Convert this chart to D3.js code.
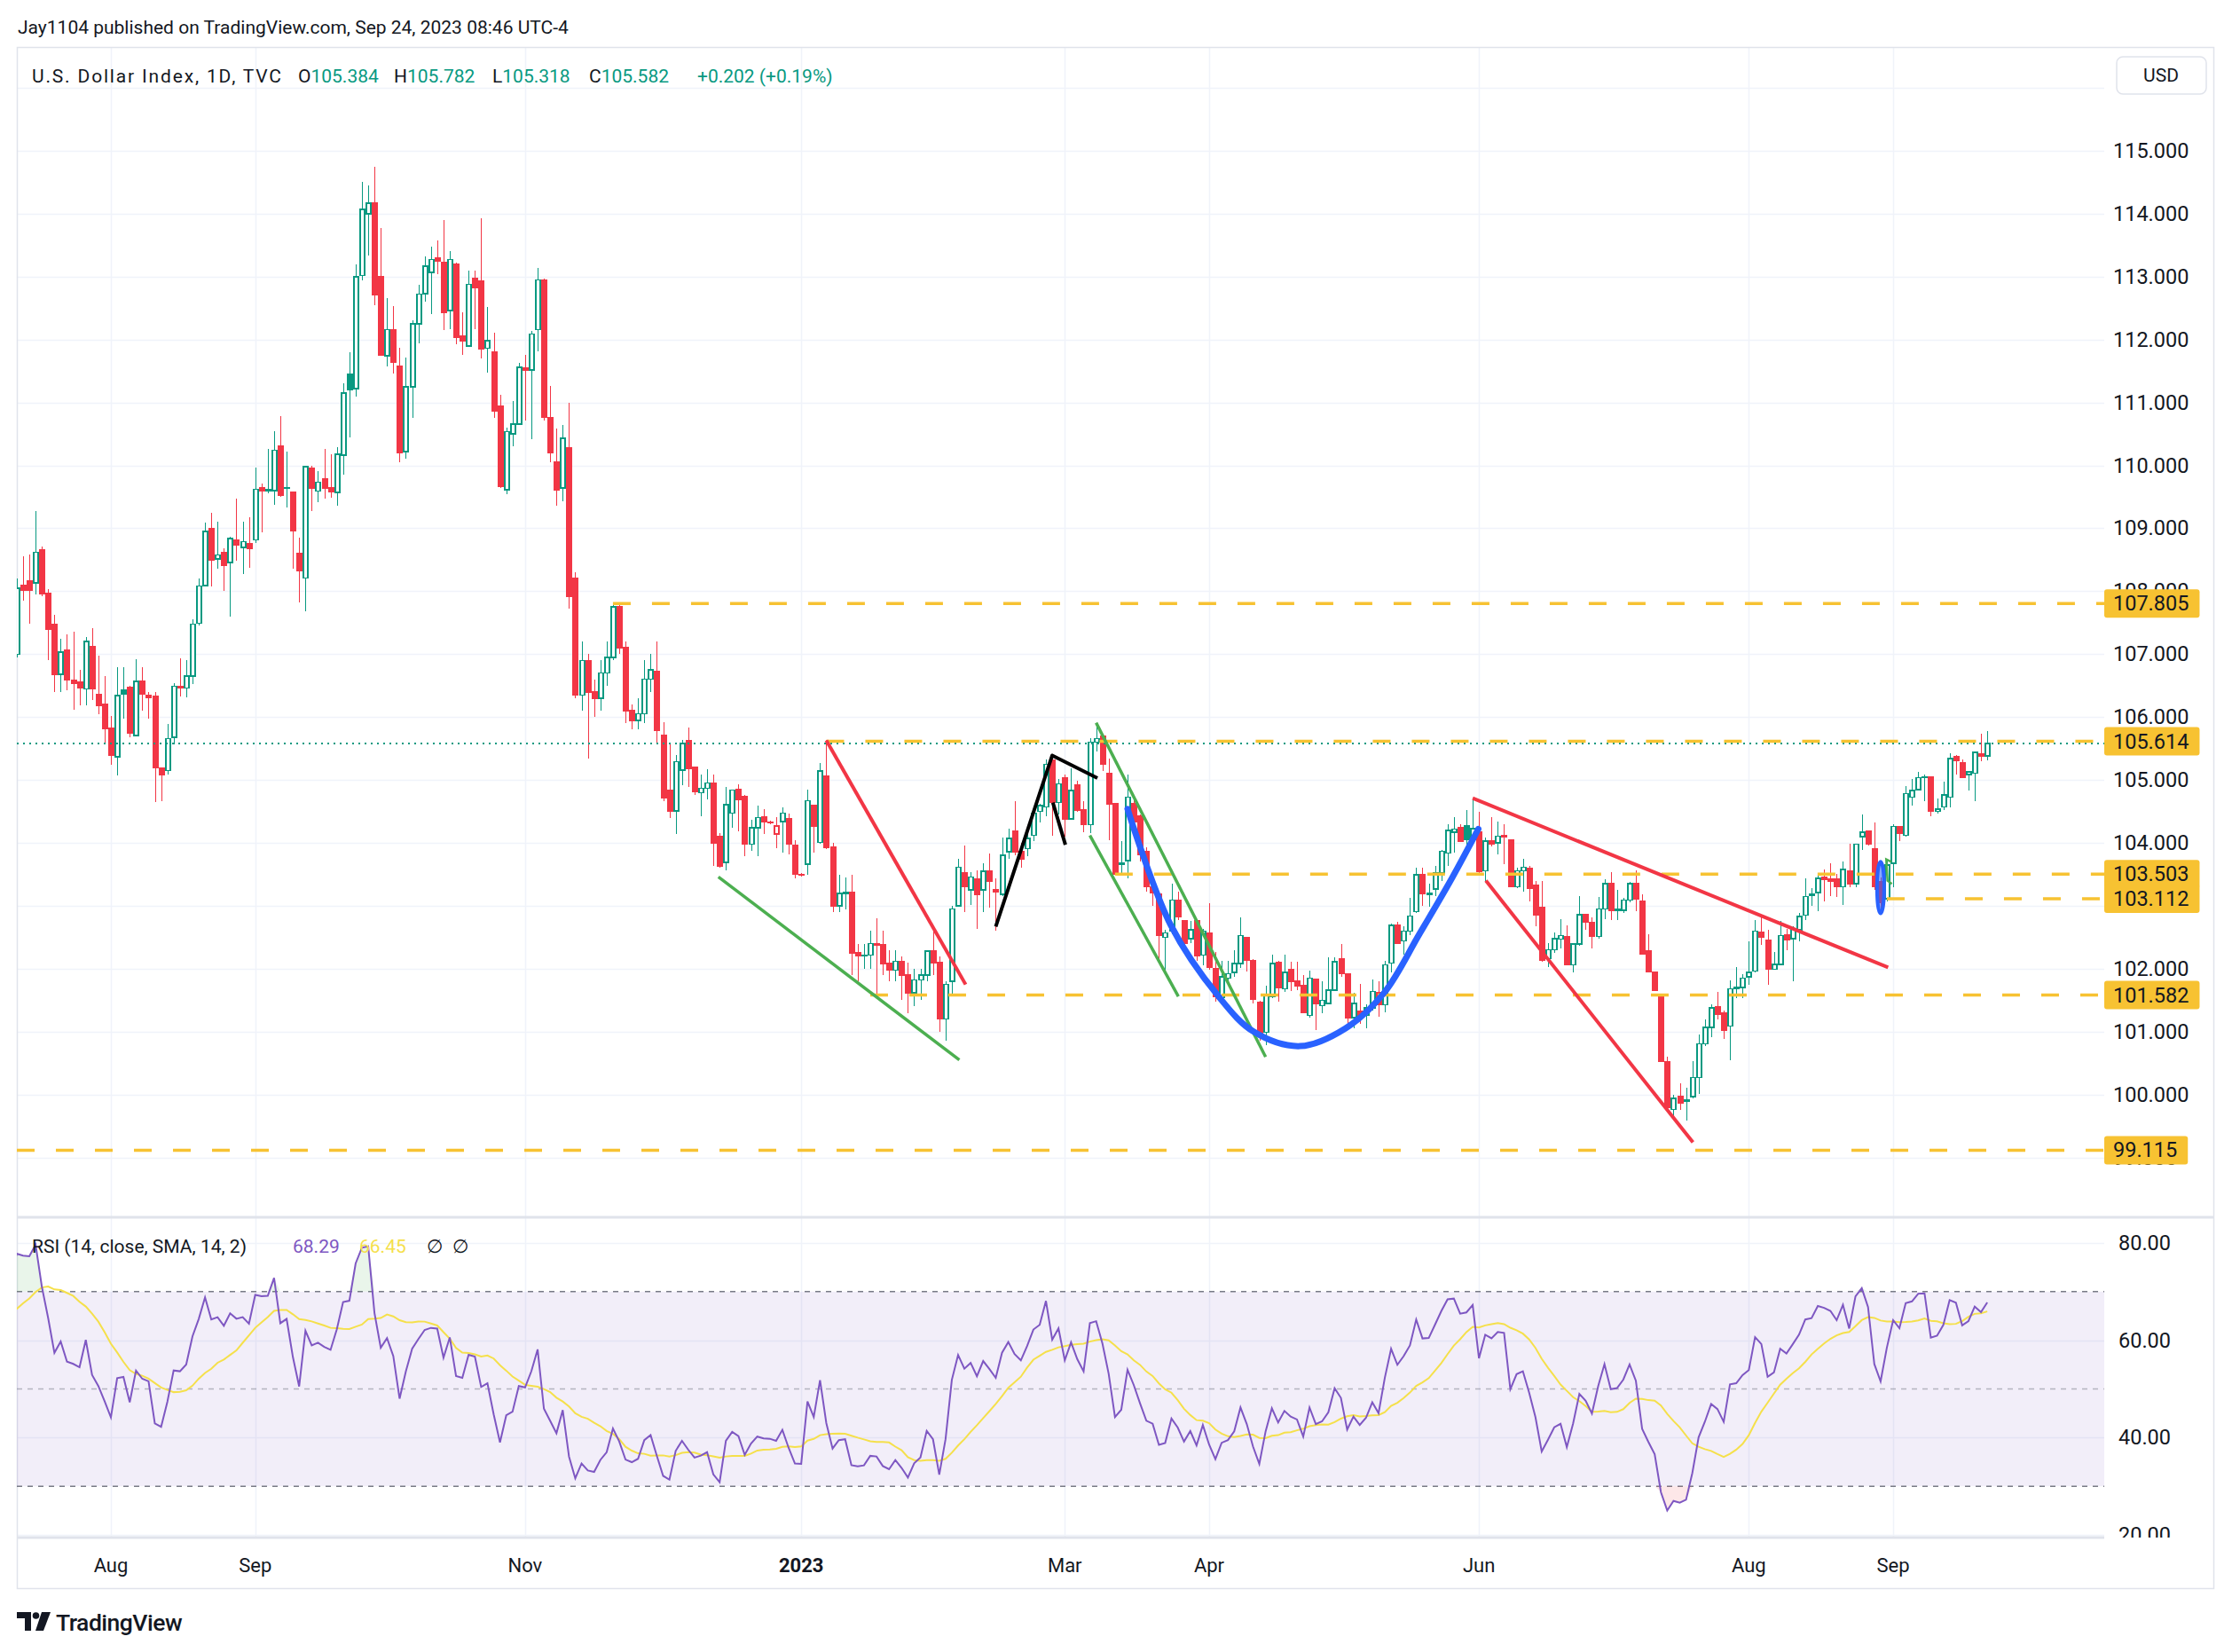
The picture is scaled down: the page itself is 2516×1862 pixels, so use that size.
<!DOCTYPE html>
<html>
<head>
<meta charset="utf-8">
<script src="https://cdn.jsdelivr.net/npm/d3@7"></script>
<style>
  body { margin: 0; background: #fff; }
  svg { display: block; font-family: Roboto, "DejaVu Sans", sans-serif; }
</style>
</head>
<body>
<svg id="chart" width="2516" height="1862"></svg>
<script>
// U.S. Dollar Index (TVC:DXY), daily candles, 2022-07-11 .. 2023-09-22
var firstDay = "2022-07-11";

var opens = [
  107.00,108.10,108.17,108.13,108.66,107.97,107.48,106.68,107.07,106.58,106.55,106.45,107.12,106.36,106.21,
  105.83,105.37,106.43,106.47,105.71,106.57,106.34,106.33,105.19,105.15,105.68,106.49,106.46,106.65,107.49,108.09,109.00,108.51,108.62,108.46,108.82,108.70,108.75,
  108.82,109.64,109.59,109.60,110.31,109.64,109.57,108.60,108.21,109.96,109.59,109.79,109.64,109.57,110.16,111.45,111.22,113.02,114.00,114.17,113.00,111.74,
  112.16,111.58,110.22,111.25,112.25,112.73,113.07,113.30,113.22,112.46,113.20,112.05,111.90,112.97,112.93,111.86,111.80,110.94,109.61,110.50,110.66,
  111.55,111.52,112.16,112.95,110.76,110.05,109.64,110.28,108.20,106.35,106.90,106.40,106.30,106.70,106.95,107.75,107.10,106.10,105.95,106.05,106.60,106.73,
  105.71,104.83,104.51,105.16,105.62,105.20,104.80,104.87,104.95,104.10,103.69,104.47,104.85,104.74,103.98,104.24,104.41,104.32,104.14,104.34,104.39,103.96,
  103.49,103.66,104.60,104.01,105.06,103.94,103.00,103.20,103.22,102.25,102.20,102.22,102.40,102.38,102.08,101.98,102.12,101.90,101.62,101.82,101.90,102.28,
  102.10,101.20,101.80,103.00,103.52,103.25,103.42,103.25,103.56,103.25,103.18,103.86,104.19,103.86,103.91,104.12,104.50,104.57,105.32,104.64,
  105.04,104.38,104.92,104.52,104.29,105.60,105.69,105.11,104.62,103.66,103.72,104.62,104.43,103.86,103.30,103.18,102.50,102.60,103.09,102.76,102.48,102.76,102.22,
  102.57,102.00,101.54,101.85,101.94,102.08,102.50,102.13,101.47,100.99,101.56,102.10,101.68,101.99,101.80,101.73,101.26,101.83,101.41,101.45,
  101.66,102.16,101.92,101.22,101.33,101.26,101.38,101.62,101.43,102.09,102.69,102.44,102.60,102.91,103.49,103.19,103.27,103.52,103.84,104.17,104.24,104.27,104.05,
  104.17,103.56,104.03,104.00,104.12,104.05,103.30,103.56,103.59,103.33,102.98,102.16,102.30,102.47,102.51,102.06,102.39,102.86,102.74,102.51,102.95,103.35,
  102.93,102.93,103.09,103.35,103.08,102.29,101.95,101.60,100.52,99.76,99.97,99.90,99.97,100.27,100.81,101.07,101.40,101.30,101.09,101.68,101.70,
  101.87,101.96,102.58,102.45,101.99,102.07,102.54,102.48,102.62,102.85,103.16,103.21,103.46,103.42,103.42,103.30,103.56,103.35,104.10,104.19,103.91,103.38,103.11,
  103.68,104.26,104.12,104.73,104.85,105.04,105.05,104.50,104.57,104.73,105.37,105.28,105.09,105.11,105.42,105.384
];
var highs = [
  108.20,108.56,108.58,109.28,108.71,108.03,107.62,107.25,107.32,107.36,106.75,107.27,107.41,106.97,106.65,
  106.02,106.80,106.80,106.50,106.92,106.79,106.40,106.40,105.19,105.89,106.54,106.94,106.90,107.55,108.20,109.09,109.25,109.10,108.68,108.87,109.47,109.10,109.18,
  109.96,109.71,110.26,110.54,110.79,110.22,109.57,108.85,110.00,109.99,109.91,110.26,110.18,110.29,111.30,111.80,113.20,114.50,114.45,114.75,113.77,112.66,
  112.53,111.87,111.72,112.30,112.87,113.32,113.48,113.58,113.90,113.41,113.22,112.43,113.09,113.09,113.93,112.52,112.11,111.12,110.60,111.02,111.63,
  111.76,112.14,113.14,112.97,111.27,110.59,110.64,111.00,108.30,107.20,107.00,106.60,106.90,107.20,107.81,107.80,107.20,106.20,106.30,106.90,107.00,107.20,
  105.92,105.60,105.40,105.63,105.84,105.20,105.08,105.17,105.09,104.16,104.89,104.85,104.93,104.76,104.37,104.59,104.53,104.35,104.41,104.56,104.47,104.05,
  103.52,104.85,104.60,105.27,105.63,104.00,103.50,103.45,103.50,102.40,102.40,102.60,102.80,102.60,102.30,102.30,102.20,102.10,102.00,102.00,102.30,102.60,
  102.20,101.80,103.00,103.75,103.96,103.54,103.56,103.68,103.83,103.44,104.09,104.22,104.66,104.00,104.24,104.54,104.62,105.32,105.39,105.01,
  105.08,105.18,104.99,104.67,105.66,105.88,105.72,105.34,104.62,104.03,105.08,104.71,104.45,103.93,103.49,103.23,102.62,103.35,103.23,102.76,102.76,102.76,102.64,
  103.04,102.27,102.13,102.13,102.29,102.81,102.50,102.15,101.49,101.73,102.22,102.13,102.22,102.11,102.11,101.90,101.97,101.83,101.80,102.18,
  102.18,102.40,101.92,101.62,101.76,101.43,101.83,101.80,102.13,102.72,102.74,102.67,103.12,103.61,103.61,103.35,103.64,103.89,104.29,104.41,104.29,104.52,104.71,
  104.50,104.08,104.41,104.34,104.29,104.05,103.61,103.75,103.63,103.40,103.40,102.41,102.58,102.79,102.69,102.39,103.16,102.86,102.81,103.14,103.42,103.54,
  103.26,103.12,103.38,103.56,103.18,102.55,101.96,101.61,100.60,99.99,100.18,100.11,100.53,100.95,101.19,101.43,101.63,101.33,101.82,102.03,101.92,
  102.43,102.78,102.81,102.62,102.27,102.76,102.64,102.67,102.88,103.44,103.28,103.49,103.58,103.68,103.51,103.70,103.98,103.98,104.45,104.19,104.33,103.45,103.75,
  104.29,104.26,104.91,105.01,105.13,105.08,105.05,104.71,104.97,105.42,105.39,105.33,105.15,105.45,105.73,105.782
];
var lows = [
  106.95,107.85,107.48,107.95,107.92,106.91,106.40,106.40,106.43,106.11,106.18,106.19,106.27,106.05,105.56,
  105.24,105.07,105.98,105.68,105.69,106.10,105.98,104.65,104.67,105.09,105.56,106.33,106.31,106.52,107.46,108.08,108.08,108.36,108.00,107.59,108.48,108.28,108.37,
  108.77,108.94,109.55,109.38,109.50,109.33,108.36,107.82,107.68,109.28,109.42,109.47,109.49,109.36,109.85,110.45,111.09,112.94,113.33,112.55,111.75,111.58,
  111.46,110.05,110.10,110.76,111.94,112.60,112.40,113.04,112.15,112.17,111.92,111.76,111.89,112.16,111.70,111.47,110.75,109.64,109.54,110.30,110.66,
  110.71,110.42,111.81,110.71,110.05,109.36,109.43,107.72,106.30,106.10,105.34,106.00,106.10,106.50,106.90,107.00,105.90,105.80,105.80,105.90,106.40,105.60,
  104.67,104.40,104.14,104.92,104.89,104.76,104.43,104.69,103.63,103.60,103.56,104.24,104.18,103.79,103.88,103.79,104.14,104.30,103.92,103.85,103.82,103.43,
  103.47,103.50,103.85,103.98,103.90,102.90,102.90,102.95,101.90,101.80,102.00,102.00,101.55,101.90,101.80,101.80,101.50,101.30,101.40,101.50,101.80,101.90,
  101.00,100.85,101.60,103.00,102.90,103.02,102.64,102.90,102.97,102.60,103.16,103.75,103.80,103.60,103.79,104.03,104.33,104.43,104.12,104.45,
  104.10,104.38,104.50,104.17,104.15,105.45,105.15,104.05,103.49,103.49,103.44,104.17,103.70,103.23,103.00,102.08,101.96,102.55,102.78,102.36,102.41,102.13,102.06,
  101.99,101.47,101.47,101.80,101.87,102.01,101.96,101.45,100.86,100.79,101.54,101.47,101.63,101.64,101.66,101.31,101.22,101.03,101.29,101.43,
  101.64,101.87,101.10,101.05,101.12,101.05,101.34,101.24,101.31,101.94,102.39,102.23,102.53,102.88,103.00,102.98,103.16,103.40,103.63,103.84,104.03,103.87,104.03,
  103.52,103.40,103.94,103.82,103.66,103.30,103.28,103.23,103.07,102.67,102.11,102.02,102.25,102.32,102.06,101.94,102.37,102.62,102.32,102.48,102.79,102.77,
  102.77,102.88,103.05,102.92,102.24,101.95,101.66,100.52,99.78,99.61,99.76,99.59,99.94,100.01,100.77,100.91,101.19,100.88,100.55,101.54,101.54,
  101.75,101.94,102.38,101.75,101.99,102.06,102.29,101.80,102.43,102.78,103.00,102.92,103.07,103.16,103.14,103.02,103.30,103.30,103.89,103.96,103.25,102.93,103.07,
  103.30,104.03,104.10,104.59,104.83,104.66,104.43,104.47,104.52,104.57,105.08,105.03,104.83,104.66,105.30,105.318
];
var closes = [
  108.05,108.02,108.01,108.62,107.96,107.40,106.68,107.03,106.59,106.54,106.47,107.20,106.45,106.19,105.82,
  105.40,106.34,106.37,105.75,106.57,106.37,106.31,105.19,105.09,105.66,106.49,106.47,106.65,107.48,108.08,108.95,108.49,108.58,108.41,108.84,108.74,108.79,108.68,
  109.62,109.60,109.61,110.24,109.52,109.65,108.96,108.33,109.98,109.64,109.73,109.64,109.58,110.18,111.15,111.20,113.00,114.07,114.17,112.71,111.75,112.16,
  111.64,110.20,111.25,112.25,112.72,113.17,113.27,113.25,112.43,113.27,112.04,111.98,112.88,112.82,111.85,111.98,110.87,109.66,110.54,110.66,111.56,
  111.51,112.09,112.95,110.76,110.20,109.61,110.43,107.92,106.35,106.90,106.40,106.30,106.70,106.95,107.75,107.10,106.10,105.95,106.05,106.60,106.75,105.79,
  104.72,104.50,105.29,105.58,105.18,104.82,104.87,104.95,104.00,103.63,104.61,104.84,104.69,103.98,104.24,104.40,104.34,104.33,104.27,104.47,103.98,103.51,
  103.50,104.67,104.27,105.14,103.92,103.00,103.20,103.22,102.25,102.20,102.22,102.40,102.38,102.08,101.98,102.12,101.90,101.62,101.82,101.90,102.28,102.10,
  101.20,101.75,102.95,103.61,103.31,103.46,103.18,103.55,103.39,103.22,103.80,104.07,103.86,103.75,104.07,104.47,104.59,105.25,104.64,104.94,
  104.38,104.83,104.52,104.29,105.60,105.66,105.25,104.62,103.51,103.68,104.73,104.33,103.82,103.30,103.21,102.53,102.57,103.09,102.83,102.41,102.62,102.20,102.60,
  102.03,101.56,101.87,101.92,102.08,102.53,102.13,101.52,100.98,101.59,102.08,101.70,101.94,101.80,101.73,101.31,101.85,101.45,101.50,101.66,
  102.11,101.92,101.22,101.45,101.26,101.38,101.64,101.43,102.06,102.69,102.41,102.60,102.84,103.49,103.19,103.20,103.52,103.87,104.20,104.22,104.03,104.06,104.23,
  103.54,104.03,103.98,104.11,104.10,103.30,103.56,103.61,103.28,102.86,102.13,102.30,102.48,102.53,102.06,102.39,102.86,102.74,102.51,102.95,103.35,102.93,
  102.95,103.09,103.35,103.11,102.24,101.95,101.66,100.53,99.80,99.94,99.87,99.91,100.27,100.81,101.07,101.38,101.28,101.02,101.68,101.70,101.85,
  101.94,102.60,102.50,101.99,102.07,102.53,102.46,102.64,102.83,103.15,103.18,103.44,103.42,103.39,103.30,103.58,103.35,103.98,104.17,103.98,103.30,103.05,103.65,
  104.26,104.15,104.78,104.83,105.04,105.05,104.50,104.54,104.76,105.34,105.31,105.04,105.13,105.44,105.38,105.582
];

// closes before the first visible bar (late May - Jul 8 2022), only used to warm up the RSI
var warmupCloses = [101.8,101.7,101.6,101.8,102.5,101.8,102.2,102.4,102.3,102.6,103.3,104.2,105.1,105.5,105.0,103.6,
  104.7,104.5,104.4,104.2,104.4,104.2,103.9,104.5,105.1,104.7,105.1,105.1,106.5,107.0,107.0,107.0];

var tickDates = ["2022-08-01","2022-09-01","2022-11-01","2023-01-02","2023-03-01","2023-04-03","2023-06-01","2023-08-01","2023-09-01"];
var tickLabels = ["Aug","Sep","Nov","2023","Mar","Apr","Jun","Aug","Sep"];
var priceGrid = d3.range(99, 117);
var priceLabels = [99, 100, 101, 102, 104, 105, 106, 107, 108, 109, 110, 111, 112, 113, 114, 115];
var rsiTicks = [20, 40, 60, 80];

// horizontal levels drawn by the author: price and first bar index
var levelPrices = [107.805, 105.614, 103.503, 103.112, 101.582, 99.115];
var levelStarts = [95, 129, 175, 298, 136, 0];

// trend lines as [bar index, price] pairs
var redLines = [
  [[129.0, 105.63], [151.2, 101.75]],
  [[232.0, 104.71], [298.2, 102.02]],
  [[234.1, 103.40], [267.1, 99.24]]
];
var greenLines = [
  [[111.8, 103.46], [150.2, 100.55]],
  [[172.0, 105.91], [199.0, 100.60]],
  [[171.0, 104.12], [185.1, 101.56]]
];
var blackLines = [
  [[156.0, 102.67], [165.0, 105.39], [172.2, 105.03]],
  [[165.1, 104.64], [167.1, 103.97]]
];
var blueArc = [[177.0, 104.54], [183.9, 102.69], [191.5, 101.56], [197.1, 101.00], [204.5, 100.77],
  [211.7, 101.05], [217.9, 101.62], [223.5, 102.55], [228.7, 103.44], [232.9, 104.22]];
var blueMark = {index: 297, top: 103.70, bottom: 102.88};
var greenTick = [[298.7, 103.70], [297.9, 103.74], [298.1, 103.40], [298.8, 103.35]];

var lastPrice = 105.582;

// ---------------------------------------------------------------------------
var teal = "#089981", red = "#F23645", ink = "#131722", grid = "#F0F3FA", border = "#E0E3EB";
var gold = "#F7C232", purple = "#7E57C2", yellow = "#F5E04B";

var plotLeft = 19, plotRight = 2372, frameRight = 2495;
var mainTop = 53, mainBottom = 1372, rsiBottom = 1733, frameBottom = 1790;
var n = closes.length;

function weekdays(start, count) {
    var out = [];
    var d = new Date(start + "T00:00:00Z");
    while (out.length < count) {
        var wd = d.getUTCDay();
        if (wd !== 0 && wd !== 6) out.push(d.toISOString().slice(0, 10));
        d.setUTCDate(d.getUTCDate() + 1);
    }
    return out;
}
var dates = weekdays(firstDay, n);

var x = d3.scaleLinear().domain([0, n - 1 + 18.64]).range([18.9, plotRight]);
var y = d3.scaleLinear().domain([98.05, 116.65]).range([mainBottom, mainTop]);
var ry = d3.scaleLinear().domain([19.45, 85.29]).range([rsiBottom, mainBottom]);

var svg = d3.select("#chart");
svg.append("rect").attr("width", 2516).attr("height", 1862).attr("fill", "#fff");

var defs = svg.append("defs");
defs.append("clipPath").attr("id", "clipMain").append("rect")
    .attr("x", plotLeft).attr("y", mainTop).attr("width", plotRight - plotLeft).attr("height", mainBottom - mainTop);
defs.append("clipPath").attr("id", "clipRsi").append("rect")
    .attr("x", plotLeft).attr("y", mainBottom).attr("width", plotRight - plotLeft).attr("height", rsiBottom - mainBottom);
defs.append("clipPath").attr("id", "clipRsiAxis").append("rect")
    .attr("x", plotRight).attr("y", mainBottom).attr("width", frameRight - plotRight).attr("height", rsiBottom - mainBottom);

// header
svg.append("text").attr("x", 20).attr("y", 31).attr("dominant-baseline", "central")
    .attr("font-size", 21).attr("fill", ink)
    .text("Jay1104 published on TradingView.com, Sep 24, 2023 08:46 UTC-4");

// grid
var tickIdx = tickDates.map(function(d) { return dates.indexOf(d); });
var gGrid = svg.append("g");
gGrid.selectAll("line.v").data(tickIdx).enter().append("line")
    .attr("x1", function(d) { return Math.round(x(d)) + 0.5; })
    .attr("x2", function(d) { return Math.round(x(d)) + 0.5; })
    .attr("y1", mainTop).attr("y2", rsiBottom)
    .attr("stroke", grid).attr("stroke-width", 1.5);
gGrid.selectAll("line.h").data(priceGrid).enter().append("line")
    .attr("x1", plotLeft).attr("x2", plotRight)
    .attr("y1", function(d) { return Math.round(y(d)) + 0.5; })
    .attr("y2", function(d) { return Math.round(y(d)) + 0.5; })
    .attr("stroke", grid).attr("stroke-width", 1.5);
gGrid.selectAll("line.r").data(rsiTicks).enter().append("line")
    .attr("x1", plotLeft).attr("x2", plotRight)
    .attr("y1", function(d) { return Math.round(ry(d)) + 0.5; })
    .attr("y2", function(d) { return Math.round(ry(d)) + 0.5; })
    .attr("stroke", grid).attr("stroke-width", 1.5);

// frame and pane separators
svg.append("rect").attr("x", plotLeft + 0.5).attr("y", mainTop + 0.5)
    .attr("width", frameRight - plotLeft).attr("height", frameBottom - mainTop)
    .attr("fill", "none").attr("stroke", border).attr("stroke-width", 1.5);
svg.append("line").attr("x1", plotLeft).attr("x2", frameRight).attr("y1", mainBottom).attr("y2", mainBottom)
    .attr("stroke", border).attr("stroke-width", 3);
svg.append("line").attr("x1", plotLeft).attr("x2", plotRight).attr("y1", rsiBottom).attr("y2", rsiBottom)
    .attr("stroke", border).attr("stroke-width", 3);

// candles (hollow style: colour vs previous close, fill when close < open)
var gCandles = svg.append("g").attr("clip-path", "url(#clipMain)").attr("shape-rendering", "crispEdges");
var bars = d3.range(n).map(function(i) {
    var prev = i === 0 ? opens[0] : closes[i - 1];
    return {i: i, o: opens[i], h: highs[i], l: lows[i], c: closes[i],
            col: closes[i] >= prev ? teal : red, filled: closes[i] < opens[i]};
});
var candle = gCandles.selectAll("g").data(bars).enter().append("g");
candle.append("line")
    .attr("x1", function(d) { return Math.round(x(d.i)) + 0.5; })
    .attr("x2", function(d) { return Math.round(x(d.i)) + 0.5; })
    .attr("y1", function(d) { return y(d.h); })
    .attr("y2", function(d) { return y(d.l); })
    .attr("stroke", function(d) { return d.col; }).attr("stroke-width", 1.5);
candle.append("rect")
    .attr("x", function(d) { return Math.round(x(d.i)) - 2; })
    .attr("y", function(d) { return y(Math.max(d.o, d.c)); })
    .attr("width", 5)
    .attr("height", function(d) { return Math.max(1, Math.abs(y(d.o) - y(d.c))); })
    .attr("fill", function(d) { return d.filled ? d.col : "#fff"; })
    .attr("stroke", function(d) { return d.col; }).attr("stroke-width", 1.5);

// drawings
var gDraw = svg.append("g").attr("clip-path", "url(#clipMain)");
gDraw.append("line").attr("x1", plotLeft).attr("x2", plotRight)
    .attr("y1", y(lastPrice)).attr("y2", y(lastPrice))
    .attr("stroke", teal).attr("stroke-width", 2).attr("stroke-dasharray", "2 5");
gDraw.selectAll("line.level").data(levelPrices).enter().append("line")
    .attr("x1", function(d, k) { return Math.max(plotLeft, x(levelStarts[k])); })
    .attr("x2", plotRight)
    .attr("y1", function(d) { return y(d); }).attr("y2", function(d) { return y(d); })
    .attr("stroke", gold).attr("stroke-width", 3.5).attr("stroke-dasharray", "20 24");

var seg = d3.line().x(function(p) { return x(p[0]); }).y(function(p) { return y(p[1]); });
gDraw.selectAll("path.g").data(greenLines).enter().append("path")
    .attr("d", seg).attr("fill", "none").attr("stroke", "#4CAF50").attr("stroke-width", 3.5);
gDraw.selectAll("path.r").data(redLines).enter().append("path")
    .attr("d", seg).attr("fill", "none").attr("stroke", red).attr("stroke-width", 4);
gDraw.selectAll("path.k").data(blackLines).enter().append("path")
    .attr("d", seg).attr("fill", "none").attr("stroke", "#000").attr("stroke-width", 4)
    .attr("stroke-linejoin", "round");
gDraw.append("path").datum(blueArc)
    .attr("d", seg.curve(d3.curveCatmullRom))
    .attr("fill", "none").attr("stroke", "#2962FF").attr("stroke-width", 7).attr("stroke-linecap", "round");
gDraw.append("ellipse")
    .attr("cx", x(blueMark.index)).attr("cy", (y(blueMark.top) + y(blueMark.bottom)) / 2)
    .attr("rx", 4).attr("ry", (y(blueMark.bottom) - y(blueMark.top)) / 2)
    .attr("fill", "rgba(41,98,255,0.55)").attr("stroke", "#2962FF").attr("stroke-width", 4);
gDraw.append("path").datum(greenTick)
    .attr("d", d3.line().x(function(p) { return x(p[0]); }).y(function(p) { return y(p[1]); }))
    .attr("fill", "none").attr("stroke", "#4CAF50").attr("stroke-width", 2.5);

// legend
var legend = svg.append("text").attr("y", 86).attr("dominant-baseline", "central").attr("font-size", 21);
legend.append("tspan").attr("x", 36).attr("fill", ink)
    .attr("textLength", 281).attr("lengthAdjust", "spacing")
    .text("U.S. Dollar Index, 1D, TVC");
var ohlc = [["O", "105.384", 336], ["H", "105.782", 444], ["L", "105.318", 555], ["C", "105.582", 664]];
ohlc.forEach(function(q) {
    legend.append("tspan").attr("x", q[2]).attr("fill", ink).text(q[0]);
    legend.append("tspan").attr("fill", teal).text(q[1]);
});
legend.append("tspan").attr("x", 786).attr("fill", teal).text("+0.202 (+0.19%)");

// price axis
var gAxis = svg.append("g").attr("font-size", 23.5).attr("fill", ink);
gAxis.selectAll("text.p").data(priceLabels).enter().append("text")
    .attr("x", 2382).attr("y", function(d) { return y(d); })
    .attr("dominant-baseline", "central")
    .text(function(d) { return d.toFixed(3); });

var usd = svg.append("g");
usd.append("rect").attr("x", 2386).attr("y", 64).attr("width", 101).attr("height", 42).attr("rx", 7)
    .attr("fill", "#fff").attr("stroke", border).attr("stroke-width", 1.5);
usd.append("text").attr("x", 2436).attr("y", 85).attr("text-anchor", "middle")
    .attr("dominant-baseline", "central").attr("font-size", 21).attr("fill", ink).text("USD");

var tags = svg.append("g").selectAll("g").data(levelPrices).enter().append("g");
tags.append("text")
    .attr("x", 2382).attr("y", function(d) { return y(d); })
    .attr("dominant-baseline", "central").attr("font-size", 23.5).attr("fill", ink)
    .text(function(d) { return d.toFixed(3); })
    .each(function(d) { d3.select(this.parentNode).datum({p: d, w: this.getComputedTextLength()}); });
tags.insert("rect", "text")
    .attr("x", plotRight).attr("y", function(d) { return y(d.p) - 16; })
    .attr("width", function(d) { return d.w + 22; }).attr("height", 32).attr("rx", 3)
    .attr("fill", gold);

// RSI (14, Wilder) with a 14-bar SMA
var all = warmupCloses.concat(closes);
function rsiSeries(src, len) {
    var out = src.map(function() { return null; });
    var up = 0, down = 0;
    for (var k = 1; k < src.length; k++) {
        var ch = src[k] - src[k - 1];
        var g = Math.max(ch, 0), l = Math.max(-ch, 0);
        if (k <= len) { up += g / len; down += l / len; }
        else { up = (up * (len - 1) + g) / len; down = (down * (len - 1) + l) / len; }
        if (k >= len) out[k] = down === 0 ? 100 : 100 - 100 / (1 + up / down);
    }
    return out;
}
function smaSeries(src, len) {
    return src.map(function(v, k) {
        if (k < len - 1) return null;
        var win = src.slice(k - len + 1, k + 1);
        if (win.some(function(w) { return w === null; })) return null;
        return d3.mean(win);
    });
}
var rsiAll = rsiSeries(all, 14);
var maAll = smaSeries(rsiAll, 14);
var off = warmupCloses.length;
var rsiPts = [], maPts = [];
for (var k = off - 1; k < all.length; k++) {
    rsiPts.push({i: k - off, v: rsiAll[k]});
    maPts.push({i: k - off, v: maAll[k]});
}

var gRsi = svg.append("g").attr("clip-path", "url(#clipRsi)");
gRsi.append("rect").attr("x", plotLeft).attr("width", plotRight - plotLeft)
    .attr("y", ry(70)).attr("height", ry(30) - ry(70)).attr("fill", "rgba(126,87,194,0.1)");
[70, 30].forEach(function(lv) {
    gRsi.append("line").attr("x1", plotLeft).attr("x2", plotRight).attr("y1", ry(lv)).attr("y2", ry(lv))
        .attr("stroke", "#787B86").attr("stroke-width", 1.5).attr("stroke-dasharray", "6 6");
});
gRsi.append("line").attr("x1", plotLeft).attr("x2", plotRight).attr("y1", ry(50)).attr("y2", ry(50))
    .attr("stroke", "#787B86").attr("stroke-opacity", 0.5).attr("stroke-width", 1.5).attr("stroke-dasharray", "6 6");
gRsi.append("path").datum(rsiPts)
    .attr("d", d3.area().x(function(d) { return x(d.i); })
        .y0(ry(70)).y1(function(d) { return ry(Math.max(70, d.v)); }))
    .attr("fill", "rgba(76,175,80,0.12)");
gRsi.append("path").datum(rsiPts)
    .attr("d", d3.area().x(function(d) { return x(d.i); })
        .y0(ry(30)).y1(function(d) { return ry(Math.min(30, d.v)); }))
    .attr("fill", "rgba(242,54,69,0.12)");
var rline = d3.line().defined(function(d) { return d.v !== null; })
    .x(function(d) { return x(d.i); }).y(function(d) { return ry(d.v); });
gRsi.append("path").datum(maPts).attr("d", rline)
    .attr("fill", "none").attr("stroke", yellow).attr("stroke-width", 2);
gRsi.append("path").datum(rsiPts).attr("d", rline)
    .attr("fill", "none").attr("stroke", purple).attr("stroke-width", 2);

var rsiLegend = svg.append("text").attr("y", 1405).attr("dominant-baseline", "central").attr("font-size", 21);
rsiLegend.append("tspan").attr("x", 36).attr("fill", ink).text("RSI (14, close, SMA, 14, 2)");
rsiLegend.append("tspan").attr("x", 330).attr("fill", purple).text("68.29");
rsiLegend.append("tspan").attr("x", 405).attr("fill", yellow).text("66.45");
rsiLegend.append("tspan").attr("x", 481).attr("fill", ink).text("\u2205");
rsiLegend.append("tspan").attr("x", 510).attr("fill", ink).text("\u2205");

svg.append("g").attr("clip-path", "url(#clipRsiAxis)").selectAll("text").data(rsiTicks).enter().append("text")
    .attr("x", 2388).attr("y", function(d) { return ry(d); })
    .attr("dominant-baseline", "central").attr("font-size", 23.5).attr("fill", ink)
    .text(function(d) { return d.toFixed(2); });

// time axis
svg.append("g").selectAll("text").data(tickIdx).enter().append("text")
    .attr("x", function(d) { return x(d); }).attr("y", 1764)
    .attr("text-anchor", "middle").attr("dominant-baseline", "central").attr("font-size", 22)
    .attr("font-weight", function(d, k) { return tickLabels[k] === "2023" ? 700 : 400; })
    .attr("fill", ink)
    .text(function(d, k) { return tickLabels[k]; });

// footer logo
var logo = svg.append("g").attr("fill", ink);
logo.append("path").attr("d", "M19,1817 h16 v21 h-7 v-14 h-9 z");
logo.append("circle").attr("cx", 40.5).attr("cy", 1821).attr("r", 3.8);
logo.append("path").attr("d", "M47,1817 h10 l-8,21 h-9 z");
svg.append("text").attr("x", 63).attr("y", 1828).attr("dominant-baseline", "central")
    .attr("font-size", 26.5).attr("font-weight", 500).attr("fill", ink).attr("letter-spacing", -0.5)
    .text("TradingView");
</script>
</body>
</html>
